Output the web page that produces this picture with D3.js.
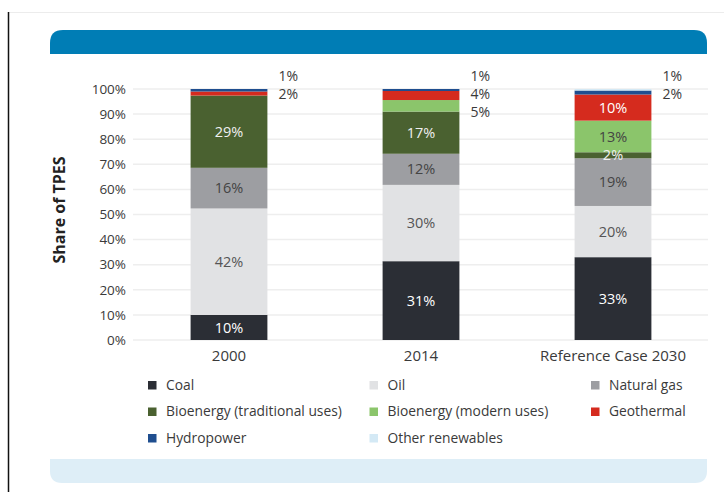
<!DOCTYPE html>
<html>
<head>
<meta charset="utf-8">
<script src="https://cdn.jsdelivr.net/npm/d3@7"></script>
<style>
body { margin: 0; background: #fff; }
text { font-family: "Open Sans", sans-serif; }
</style>
</head>
<body>
<script>
var categories = ["2000", "2014", "Reference Case 2030"]
var seriesNames = ["Coal", "Oil", "Natural gas", "Bioenergy (traditional uses)",
	"Bioenergy (modern uses)", "Geothermal", "Hydropower", "Other renewables"]
var seriesColors = ["#2b2e35", "#e1e2e4", "#9d9ea2", "#4a6130",
	"#8bc56b", "#d52b1e", "#1f4e8f", "#d4e9f5"]
var labelColors = ["#fff", "#555", "#444", "#f0f0f0", "#444", "#fff", "#fff", "#fff"]

// share of TPES (%) per category, in series order
var coal = [10, 31.4, 33]
var oil = [42.4, 30.4, 20.4]
var naturalGas = [16.2, 12.4, 19]
var bioTraditional = [28.8, 16.8, 2.4]
var bioModern = [0, 4.6, 12.6]
var geothermal = [1.6, 3.6, 10.4]
var hydropower = [1.0, 0.8, 1.6]
var otherRenewables = [0, 0, 0.6]

// which segments get their label beside the bar (top to bottom)
var outsideLabels = [
	[6, 5],
	[6, 5, 4],
	[7, 6]
]
var outsideText = [
	["1%", "2%"],
	["1%", "4%", "5%"],
	["1%", "2%"]
]

var yTicks = [0, 10, 20, 30, 40, 50, 60, 70, 80, 90, 100]

var allSeries = [coal, oil, naturalGas, bioTraditional, bioModern, geothermal, hydropower, otherRenewables]

var width = 724, height = 492

var svg = d3.select("body")
	.append("svg")
	.attr("width", width)
	.attr("height", height)

// frame bits
svg.append("line")
	.attr("x1", 8).attr("y1", 12.5).attr("x2", width).attr("y2", 12.5)
	.attr("stroke", "#ececec").attr("stroke-width", 1)
svg.append("line")
	.attr("x1", 8.5).attr("y1", 12).attr("x2", 8.5).attr("y2", height)
	.attr("stroke", "#111").attr("stroke-width", 1.5)

// blue header with rounded top corners
var hx = 50, hy = 30, hw = 657, hh = 24, hr = 13
svg.append("path")
	.attr("d", "M" + hx + "," + (hy + hh) + "V" + (hy + hr) + "Q" + hx + "," + hy + " " + (hx + hr) + "," + hy +
		"H" + (hx + hw - hr) + "Q" + (hx + hw) + "," + hy + " " + (hx + hw) + "," + (hy + hr) +
		"V" + (hy + hh) + "Z")
	.attr("fill", "#007db5")

// light footer with rounded bottom corners
var fx = 50, fy = 459, fw = 657, fh = 24, fr = 12
svg.append("path")
	.attr("d", "M" + fx + "," + fy + "H" + (fx + fw) + "V" + (fy + fh - fr) +
		"Q" + (fx + fw) + "," + (fy + fh) + " " + (fx + fw - fr) + "," + (fy + fh) +
		"H" + (fx + fr) + "Q" + fx + "," + (fy + fh) + " " + fx + "," + (fy + fh - fr) + "Z")
	.attr("fill", "#deeef7")

var x = d3.scaleBand()
	.domain(categories)
	.range([133, 709])
	.paddingInner(0.6)
	.paddingOuter(0.3)

var y = d3.scaleLinear()
	.domain([0, 100])
	.range([340, 89])

// grid
svg.append("g")
	.selectAll("line")
	.data(yTicks)
	.enter()
	.append("line")
	.attr("x1", 133).attr("x2", 708)
	.attr("y1", function(d) { return y(d) })
	.attr("y2", function(d) { return y(d) })
	.attr("stroke", "#eeeeee")
	.attr("stroke-width", 1.5)

// y tick labels
svg.append("g")
	.selectAll("text")
	.data(yTicks)
	.enter()
	.append("text")
	.attr("x", 126)
	.attr("y", function(d) { return y(d) })
	.attr("dy", "0.35em")
	.attr("text-anchor", "end")
	.attr("font-size", 13.5)
	.attr("fill", "#3a3a3a")
	.text(function(d) { return d + "%" })

svg.append("text")
	.attr("transform", "translate(65,210) rotate(-90)")
	.attr("text-anchor", "middle")
	.attr("font-size", 16)
	.attr("font-weight", "bold")
	.attr("fill", "#222")
	.text("Share of TPES")

// stacked data
var rows = categories.map(function(c, i) {
	var r = {category: c}
	seriesNames.forEach(function(s, j) { r[s] = allSeries[j][i] })
	return r
})
var stack = d3.stack().keys(seriesNames)(rows)

var groups = svg.append("g")
	.selectAll("g")
	.data(stack)
	.enter()
	.append("g")
	.attr("fill", function(d, i) { return seriesColors[i] })

groups.selectAll("rect")
	.data(function(d) { return d })
	.enter()
	.append("rect")
	.attr("x", function(d) { return x(d.data.category) })
	.attr("width", x.bandwidth())
	.attr("y", function(d) { return y(d[1]) })
	.attr("height", function(d) { return y(d[0]) - y(d[1]) })

// inside labels
stack.forEach(function(layer, j) {
	layer.forEach(function(d, i) {
		var v = d[1] - d[0]
		if (outsideLabels[i].indexOf(j) >= 0 || v <= 0) return
		svg.append("text")
			.attr("x", x(d.data.category) + x.bandwidth() / 2)
			.attr("y", y((d[0] + d[1]) / 2))
			.attr("dy", "0.35em")
			.attr("text-anchor", "middle")
			.attr("font-size", 14.5)
			.attr("fill", labelColors[j])
			.text(Math.round(v) + "%")
	})
})

// outside labels
categories.forEach(function(c, i) {
	outsideText[i].forEach(function(t, k) {
		svg.append("text")
			.attr("x", x(c) + x.bandwidth() + 11)
			.attr("y", 76 + k * 18)
			.attr("dy", "0.35em")
			.attr("font-size", 14)
			.attr("fill", "#3a3a3a")
			.text(t)
	})
})

// x labels
svg.append("g")
	.selectAll("text")
	.data(categories)
	.enter()
	.append("text")
	.attr("x", function(d) { return x(d) + x.bandwidth() / 2 })
	.attr("y", 361)
	.attr("text-anchor", "middle")
	.attr("font-size", 15)
	.attr("fill", "#3a3a3a")
	.text(function(d) { return d })

// legend
var legend = svg.append("g")
	.selectAll("g")
	.data(seriesNames)
	.enter()
	.append("g")
	.attr("transform", function(d, i) {
		return "translate(" + (148 + (i % 3) * 221.5) + "," + (385 + Math.floor(i / 3) * 26.5) + ")"
	})

legend.append("rect")
	.attr("x", 0).attr("y", -4)
	.attr("width", 8.5).attr("height", 8.5)
	.attr("fill", function(d, i) { return seriesColors[i] })

legend.append("text")
	.attr("x", 18)
	.attr("y", 0)
	.attr("dy", "0.35em")
	.attr("font-size", 13.8)
	.attr("fill", "#3a3a3a")
	.text(function(d) { return d })
</script>
</body>
</html>
